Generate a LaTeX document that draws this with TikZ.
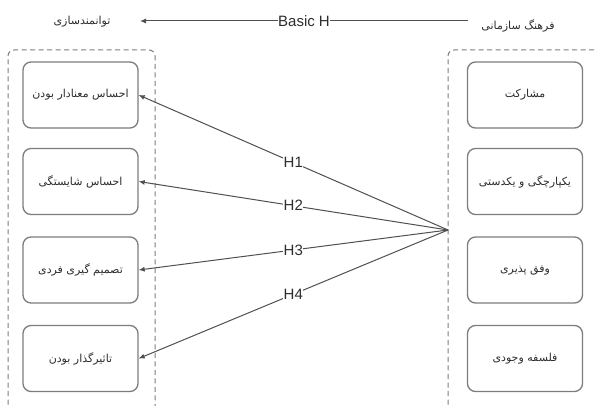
\documentclass[tikz,border=0pt]{standalone}
\usepackage{fontspec}
\setmainfont{Liberation Sans}
\newfontfamily\fafont[Script=Arabic]{DejaVu Sans}
\TeXXeTstate=1
\usetikzlibrary{arrows.meta,positioning}
\definecolor{lineGray}{RGB}{80,80,80}
\definecolor{boxGray}{RGB}{125,125,125}
\definecolor{textGray}{RGB}{45,45,45}
\newcommand{\fatext}[1]{{\fafont\beginR #1\endR}}

\begin{document}
\begin{tikzpicture}[x=1pt,y=-1pt,
  group/.style={draw=boxGray,dashed,dash pattern=on 5pt off 3.5pt,line width=1pt,rounded corners=6pt},
  dim/.style={draw=boxGray,fill=white,rounded corners=8pt,line width=1.3pt,
              minimum width=115pt,minimum height=66pt,inner sep=2pt,
              font=\fontsize{11}{13}\selectfont,text=textGray},
  title/.style={font=\fontsize{11}{13}\selectfont,text=textGray},
  hlabel/.style={fill=white,inner sep=0.5pt,font=\fontsize{15}{17}\selectfont,text=textGray},
  arr/.style={draw=lineGray,line width=1pt,-{Latex[length=6pt,width=5pt]}},
]
\clip (0,0) rectangle (595,406);
\fill[white] (0,0) rectangle (595,406);
\draw[group] (8,430) -- (8,50) -- (155,50) -- (155,430);
\draw[group] (448,430) -- (448,50) -- (610,50);
\node[title] (empower) at (82,22) {\fatext{توانمندسازی}};
\node[title] (culture) at (518,26) {\fatext{فرهنگ سازمانی}};
\coordinate (topstart) at (468,21);
\coordinate (toptip) at (140,21);
\draw[arr] (topstart) -- node[hlabel] (basich) {Basic H} (toptip);
\node[dim] (meaning) at (80.5,95) {\fatext{احساس معنادار بودن}};
\node[dim] (competence) at (80.5,181.5) {\fatext{احساس شایستگی}};
\node[dim] (choice) at (80.5,270) {\fatext{تصمیم گیری فردی}};
\node[dim] (impact) at (80.5,358.5) {\fatext{تاثیرگذار بودن}};
\node[dim] (involve) at (525,95) {\fatext{مشارکت}};
\node[dim] (consist) at (525,181.5) {\fatext{یکپارچگی و یکدستی}};
\node[dim] (adapt) at (525,270) {\fatext{وفق پذیری}};
\node[dim] (mission) at (525,358.5) {\fatext{فلسفه وجودی}};
\coordinate (hub) at (448,230);
\draw[arr] (hub) -- node[hlabel] {H1} (meaning.east);
\draw[arr] (hub) -- node[hlabel] {H2} (competence.east);
\draw[arr] (hub) -- node[hlabel] {H3} (choice.east);
\draw[arr] (hub) -- node[hlabel] {H4} (impact.east);
\end{tikzpicture}
\end{document}
